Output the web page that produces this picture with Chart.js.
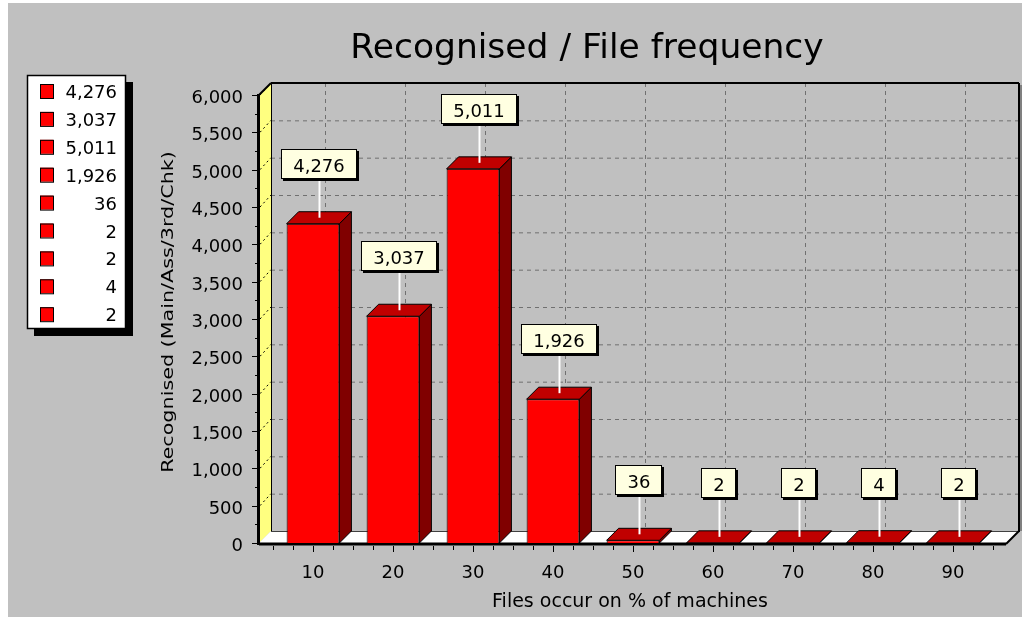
<!DOCTYPE html>
<html>
<head>
<meta charset="utf-8">
<title>Recognised / File frequency</title>
<script src="https://cdn.jsdelivr.net/npm/chart.js@4/dist/chart.umd.min.js"></script>
<style>
    html, body { margin: 0; padding: 0; background: #fff; }
    #wrap { width: 1024px; height: 620px; }
</style>
</head>
<body>
<div id="wrap"><canvas id="freqChart" width="1024" height="620"></canvas></div>
<script>
// chart data
const categories = ["10", "20", "30", "40", "50", "60", "70", "80", "90"];
const recognised = [4276, 3037, 5011, 1926, 36, 2, 2, 4, 2];
const yTicks = [0, 500, 1000, 1500, 2000, 2500, 3000, 3500, 4000, 4500, 5000, 5500, 6000];
const chartTitle = "Recognised / File frequency";
const xTitle = "Files occur on % of machines";
const yTitle = "Recognised (Main/Ass/3rd/Chk)";

const FONT = '"DejaVu Sans", Verdana, sans-serif';
const DX = 12, DY = -12;        // depth of the 3D box

const fmt = v => v.toLocaleString("en-US");

function poly(ctx, pts, fill, stroke, lw) {
    ctx.beginPath();
    ctx.moveTo(pts[0][0], pts[0][1]);
    for (let i = 1; i < pts.length; i++) ctx.lineTo(pts[i][0], pts[i][1]);
    ctx.closePath();
    if (fill) { ctx.fillStyle = fill; ctx.fill(); }
    if (stroke) { ctx.strokeStyle = stroke; ctx.lineWidth = lw || 1; ctx.stroke(); }
}

function line(ctx, x1, y1, x2, y2, color, lw, dash) {
    ctx.beginPath();
    ctx.setLineDash(dash || []);
    ctx.moveTo(x1, y1);
    ctx.lineTo(x2, y2);
    ctx.strokeStyle = color;
    ctx.lineWidth = lw;
    ctx.stroke();
    ctx.setLineDash([]);
}

// walls, floor, grid, axes, titles and legend
const box3d = {
    id: "box3d",
    beforeDatasetsDraw(chart) {
        const ctx = chart.ctx;
        const xs = chart.scales.x, ys = chart.scales.y;
        const y0 = ys.getPixelForValue(0);
        const yTop = ys.getPixelForValue(6000);
        const ax = xs.left - 14;          // front vertical axis
        const fr = xs.right + 13;         // front right end of floor

        ctx.save();
        ctx.fillStyle = "#fff";
        ctx.fillRect(0, 0, chart.width, chart.height);
        ctx.fillStyle = "#c0c0c0";
        ctx.fillRect(8, 3, 1014, 614);

        // back wall grid
        yTicks.forEach(v => {
            if (v === 0 || v === 6000) return;
            const y = ys.getPixelForValue(v) + DY;
            line(ctx, ax + DX, y + 0.5, fr + DX, y + 0.5, "#707070", 1, [4, 4]);
        });
        categories.forEach((c, i) => {
            const x = Math.round(xs.getPixelForValue(i) + DX) + 0.5;
            line(ctx, x, yTop + DY, x, y0 + DY, "#707070", 1, [4, 4]);
        });
        // back wall border
        line(ctx, ax + DX, yTop + DY, fr + DX + 1, yTop + DY, "#000", 2);
        line(ctx, fr + DX + 1, yTop + DY, fr + DX + 1, y0 + DY + 1, "#000", 2);
        line(ctx, fr + DX + 3, yTop + DY + 2, fr + DX + 3, y0 + DY, "#404040", 1);

        // left wall
        poly(ctx, [[ax, yTop], [ax + DX, yTop + DY], [ax + DX, y0 + DY], [ax, y0]], "#ffff80");
        yTicks.forEach(v => {
            if (v === 0) return;
            const y = ys.getPixelForValue(v);
            line(ctx, ax + 1, y, ax + DX, y + DY, "#000", 1, [2, 3]);
        });
        line(ctx, ax, yTop, ax + DX, yTop + DY, "#000", 2);
        line(ctx, ax + DX + 0.5, yTop + DY, ax + DX + 0.5, y0 + DY, "#000", 1);

        // floor
        poly(ctx, [[ax, y0], [fr, y0], [fr + DX, y0 + DY], [ax + DX, y0 + DY]], "#fff");
        line(ctx, ax + DX, y0 + DY + 0.5, fr + DX, y0 + DY + 0.5, "#404040", 1);
        line(ctx, ax, y0 + 1, fr, y0 + 1, "#000", 3);
        line(ctx, fr, y0 + 1, fr + DX + 1, y0 + DY, "#000", 2);

        // front y axis
        line(ctx, ax - 0.5, yTop - 1, ax - 0.5, y0 + 2, "#000", 3);

        // y ticks and labels
        ctx.font = "18px " + FONT;
        ctx.fillStyle = "#000";
        ctx.textAlign = "right";
        ctx.textBaseline = "alphabetic";
        yTicks.forEach((v, i) => {
            const y = Math.round(ys.getPixelForValue(v)) + 0.5;
            line(ctx, ax - 7, y, ax, y, "#000", 1);
            if (i < yTicks.length - 1) {
                const ym = Math.round(ys.getPixelForValue((v + yTicks[i + 1]) / 2)) + 0.5;
                line(ctx, ax - 4, ym, ax, ym, "#000", 1);
            }
            ctx.fillText(fmt(v), ax - 16, y + 7);
        });

        // x ticks and labels
        ctx.textAlign = "center";
        const cw = xs.getPixelForValue(1) - xs.getPixelForValue(0);
        categories.forEach((c, i) => {
            const xc = xs.getPixelForValue(i);
            [-0.5, -0.25, 0, 0.25].forEach(f => {
                const x = Math.round(xc + f * cw) + 0.5;
                line(ctx, x, y0 + 3, x, y0 + (f === 0 ? 9 : 7), "#000", 1);
            });
            ctx.fillText(c, xc, y0 + 35);
        });
        const xe = Math.round(xs.right) + 0.5;
        line(ctx, xe, y0 + 3, xe, y0 + 7, "#000", 1);

        // titles
        ctx.font = "19px " + FONT;
        ctx.fillText(xTitle, 630, 607);
        ctx.save();
        ctx.translate(173, 312);
        ctx.rotate(-Math.PI / 2);
        ctx.scale(1.38, 1);             // wide, short rotated lettering
        ctx.font = "15px " + FONT;
        ctx.fillText(yTitle, 0, 0);
        ctx.restore();
        ctx.font = "34.5px " + FONT;
        ctx.fillText(chartTitle, 587, 58);

        // legend
        ctx.fillStyle = "#000";
        ctx.fillRect(34, 82, 99, 254);
        ctx.fillStyle = "#fff";
        ctx.fillRect(27, 75, 99, 254);
        ctx.strokeStyle = "#000";
        ctx.lineWidth = 1.5;
        ctx.strokeRect(27.5, 75.5, 98, 253);
        ctx.font = "18px " + FONT;
        ctx.textAlign = "right";
        recognised.forEach((v, i) => {
            const base = 98 + i * 27.9;
            ctx.fillStyle = "#ff0000";
            ctx.fillRect(40, base - 14, 13, 14);
            ctx.strokeStyle = "#000";
            ctx.lineWidth = 1;
            ctx.strokeRect(40.5, base - 13.5, 13, 14);
            ctx.fillStyle = "#000";
            ctx.fillText(fmt(v), 117, base);
        });
        ctx.restore();
    },
    afterDatasetsDraw(chart) {
        const ctx = chart.ctx;
        const meta = chart.getDatasetMeta(0);
        ctx.save();
        // top and side faces of each bar
        meta.data.forEach(el => {
            const l = el.x - el.width / 2, r = el.x + el.width / 2;
            const t = el.y, b = el.base;
            poly(ctx, [[r, t], [r + DX, t + DY], [r + DX, b + DY], [r, b]], "#800000", "#000", 1);
            poly(ctx, [[l, t], [r, t], [r + DX, t + DY], [l + DX, t + DY]], "#c00000", "#000", 1);
        });
        // value callouts
        ctx.font = "18px " + FONT;
        ctx.textAlign = "center";
        ctx.textBaseline = "alphabetic";
        meta.data.forEach((el, i) => {
            const txt = fmt(recognised[i]);
            const cx = Math.round(el.x + DX / 2);
            const anchor = el.y + DY / 2;
            const bh = 30;
            const bw = Math.round(ctx.measureText(txt).width + 24);
            const by = Math.round(anchor - 39 - bh);
            const bx = cx - Math.round(bw / 2);
            line(ctx, cx + 0.5, anchor, cx + 0.5, by + bh, "#fff", 2);
            ctx.fillStyle = "#000";
            ctx.fillRect(bx + 2, by + 2, bw, bh);
            ctx.fillStyle = "#ffffe1";
            ctx.fillRect(bx, by, bw, bh);
            ctx.strokeStyle = "#000";
            ctx.lineWidth = 1;
            ctx.strokeRect(bx + 0.5, by + 0.5, bw - 1, bh - 1);
            ctx.fillStyle = "#000";
            ctx.fillText(txt, cx, by + 23);
        });
        ctx.restore();
    }
};

const chart = new Chart(document.getElementById("freqChart"), {
    type: "bar",
    data: {
        labels: categories,
        datasets: [{
            label: "Recognised",
            data: recognised,
            backgroundColor: "#ff0000",
            borderColor: "#000",
            borderWidth: 1,
            barPercentage: 0.66,
            categoryPercentage: 1
        }]
    },
    options: {
        responsive: false,
        animation: false,
        events: [],
        layout: { padding: { left: 273, right: 31, top: 95, bottom: 77 } },
        plugins: {
            legend: { display: false },
            tooltip: { enabled: false }
        },
        scales: {
            x: { display: false },
            y: { display: false, min: 0, max: 6000, ticks: { stepSize: 500 } }
        }
    },
    plugins: [box3d]
});
</script>
</body>
</html>
